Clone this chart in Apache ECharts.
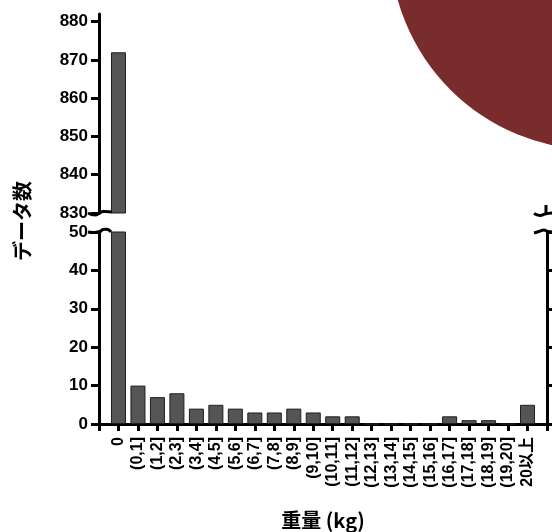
<!DOCTYPE html>
<html>
<head>
<meta charset="utf-8">
<script src="https://cdn.jsdelivr.net/npm/echarts@6/dist/echarts.min.js"></script>
<style>
  html, body { margin: 0; padding: 0; background: #fff; }
  #chart { width: 552px; height: 532px; }
</style>
</head>
<body>
<div id="chart"></div>
<script>
// Weight bins and the number of records in each
const categories = ['0', '(0,1]', '(1,2]', '(2,3]', '(3,4]', '(4,5]', '(5,6]', '(6,7]', '(7,8]', '(8,9]',
  '(9,10]', '(10,11]', '(11,12]', '(12,13]', '(13,14]', '(14,15]', '(15,16]', '(16,17]', '(17,18]',
  '(18,19]', '(19,20]', '20以上'];
const counts = [872, 10, 7, 8, 4, 5, 4, 3, 3, 4, 3, 2, 2, 0, 0, 0, 0, 2, 1, 1, 0, 5];

// Broken value axis: upper segment and lower segment
const upperRange = [830, 882];
const upperTicks = [830, 840, 850, 860, 870, 880];
const lowerRange = [0, 50];
const lowerStep = 10;

const yTitle = 'データ数';
const xTitle = '重量 (kg)';

// Layout (pixels)
const L = 99, R = 547;
const UP_TOP = 14, UP_BOTTOM = 213;
const LO_TOP = 232, LO_BOTTOM = 424;
const W = 552, H = 532;

const NUM_FONT = '"Liberation Sans", Arial, "Noto Sans CJK JP", sans-serif';
const JP_FONT = '"Noto Sans CJK JP", "Liberation Sans", sans-serif';

// half-band padding at both ends of the category axis
const axisCats = [''].concat(categories, [' ']);
const lowerData = [null].concat(counts, [null]);
const upperData = [null].concat(counts.map(v => (v >= upperRange[0] ? v : null)), [null]);

const barStyle = { color: '#555555', borderColor: '#1e1e1e', borderWidth: 1 };
const axisLine = { show: true, lineStyle: { color: '#000', width: 3 } };

const chart = echarts.init(document.getElementById('chart'), null, { renderer: 'canvas' });

const option = {
  animation: false,
  backgroundColor: '#fff',
  grid: [
    { left: L, right: W - R, top: UP_TOP, height: UP_BOTTOM - UP_TOP, containLabel: false, outerBoundsMode: 'none' },
    { left: L, right: W - R, top: LO_TOP, bottom: H - LO_BOTTOM, containLabel: false, outerBoundsMode: 'none' }
  ],
  xAxis: [
    { type: 'category', gridIndex: 0, data: axisCats, boundaryGap: false, show: false },
    {
      type: 'category', gridIndex: 1, data: axisCats, boundaryGap: false,
      axisLine: axisLine,
      axisTick: { show: true, interval: 0, length: 7, lineStyle: { color: '#000', width: 3 } },
      axisLabel: {
        interval: 0, rotate: 90, margin: 13, color: '#000',
        fontFamily: NUM_FONT, fontWeight: 'bold', fontSize: 16
      },
      name: xTitle, nameLocation: 'middle', nameGap: 86,
      nameTextStyle: { color: '#000', fontFamily: JP_FONT, fontWeight: 'bold', fontSize: 20 }
    }
  ],
  yAxis: [
    {
      type: 'value', gridIndex: 0, position: 'left',
      min: upperRange[0], max: upperRange[1],
      splitLine: { show: false },
      axisLine: axisLine,
      axisTick: { show: true, length: 8, customValues: upperTicks, lineStyle: { color: '#000', width: 3 } },
      axisLabel: {
        customValues: upperTicks, margin: 11, color: '#000',
        fontFamily: NUM_FONT, fontWeight: 'bold', fontSize: 17
      }
    },
    {
      type: 'value', gridIndex: 1, position: 'left',
      min: lowerRange[0], max: lowerRange[1], interval: lowerStep,
      splitLine: { show: false },
      axisLine: axisLine,
      axisTick: { show: true, length: 8, lineStyle: { color: '#000', width: 3 } },
      axisLabel: {
        margin: 11, color: '#000',
        fontFamily: NUM_FONT, fontWeight: 'bold', fontSize: 17
      }
    },
    {
      type: 'value', gridIndex: 1, position: 'right',
      min: lowerRange[0], max: lowerRange[1], interval: lowerStep,
      splitLine: { show: false },
      axisLine: axisLine,
      axisTick: { show: true, length: 8, lineStyle: { color: '#000', width: 3 } },
      axisLabel: { show: false }
    }
  ],
  series: [
    {
      type: 'bar', xAxisIndex: 0, yAxisIndex: 0, data: upperData,
      barWidth: 15, itemStyle: barStyle, clip: true
    },
    {
      type: 'bar', xAxisIndex: 1, yAxisIndex: 1, data: lowerData,
      barWidth: 15, itemStyle: barStyle, clip: true
    }
  ]
};

chart.setOption(option);

// Break marks drawn where the two axis segments meet
const breakLine = { stroke: '#000', lineWidth: 3, fill: null };
function squiggle(points) {
  return { type: 'polyline', shape: { points: points, smooth: 0.5 }, style: breakLine, z: 50 };
}

chart.setOption({
  graphic: [
    // left axis, upper cut
    squiggle([[L - 11, UP_BOTTOM], [L - 4, UP_BOTTOM + 2], [L + 1, UP_BOTTOM], [L + 4, UP_BOTTOM - 1.5], [L + 13, UP_BOTTOM - 1]]),
    // left axis, lower cut
    squiggle([[L - 11, LO_TOP], [L - 5, LO_TOP + 0.5], [L + 1, LO_TOP - 0.5], [L + 4, LO_TOP - 2.5], [L + 9, LO_TOP - 2.5], [L + 12, LO_TOP]]),
    // right axis, upper cut
    { type: 'line', shape: { x1: R - 1, y1: UP_BOTTOM - 8, x2: R - 1, y2: UP_BOTTOM + 1 }, style: breakLine, z: 50 },
    squiggle([[R - 13, UP_BOTTOM + 0.5], [R - 7, UP_BOTTOM + 2.5], [R - 2, UP_BOTTOM + 1], [R + 6, UP_BOTTOM]]),
    // right axis, lower cut
    squiggle([[R - 13, LO_TOP + 1], [R - 8, LO_TOP - 0.5], [R - 3, LO_TOP - 2], [R + 1, LO_TOP - 0.5], [R + 6, LO_TOP]]),
    // y axis title
    {
      type: 'text', x: 22, y: 221, rotation: Math.PI / 2, z: 50,
      style: {
        text: yTitle, fill: '#000', align: 'center', verticalAlign: 'middle',
        font: 'bold 20px ' + JP_FONT
      }
    },
    // maroon disc in the top-right corner
    { type: 'circle', shape: { cx: 596, cy: -56, r: 206 }, style: { fill: '#782c2c' }, z: 100 }
  ]
});
</script>
</body>
</html>
